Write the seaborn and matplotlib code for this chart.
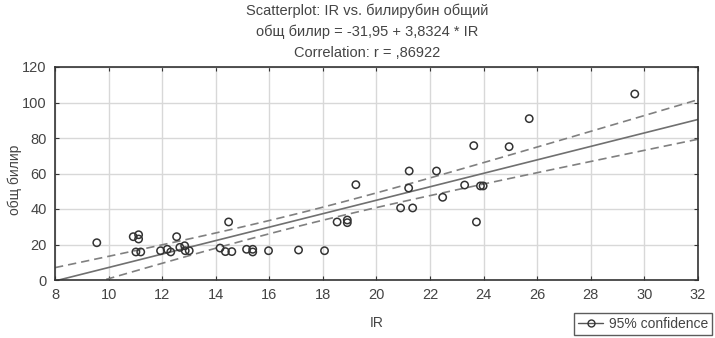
import numpy as np
import pandas as pd
import matplotlib
matplotlib.use("Agg")
import matplotlib.pyplot as plt
import seaborn as sns
from matplotlib.lines import Line2D

# values
ir = [9.56, 10.92, 11.12, 11.12, 11.02, 11.20, 11.94, 12.19, 12.32, 12.54,
      12.66, 12.84, 12.86, 13.01, 14.16, 14.36, 14.48, 14.60, 15.15, 15.38,
      15.38, 15.97, 17.09, 18.06, 18.53, 18.91, 18.91, 19.23, 20.90, 21.22,
      21.20, 21.35, 22.24, 22.47, 23.29, 23.63, 23.73, 23.88, 23.98, 24.95,
      25.70, 29.64]
bilir = [21.0, 24.4, 25.5, 23.1, 15.8, 15.8, 16.5, 17.3, 15.8, 24.4,
         18.4, 19.3, 16.5, 16.5, 18.0, 16.0, 32.7, 16.0, 17.3, 17.3,
         15.8, 16.5, 16.9, 16.5, 32.7, 33.8, 32.3, 53.7, 40.6, 61.4,
         51.8, 40.6, 61.4, 46.6, 53.5, 75.7, 32.7, 53.0, 53.0, 75.1,
         90.9, 104.8]
xticks = [8, 10, 12, 14, 16, 18, 20, 22, 24, 26, 28, 30, 32]
yticks = [0, 20, 40, 60, 80, 100, 120]

df = pd.DataFrame({"IR": ir, "bilir": bilir})

sns.set_style("whitegrid")
plt.rcParams['font.family'] = ['Liberation Sans', 'DejaVu Sans']

fig = plt.figure(figsize=(7.15, 3.38), dpi=100)
ax = fig.add_axes([55/715, 1-280/338, 643/715, 213/338])

# regression line + 95% confidence band (computed from the points)
xs = np.linspace(8, 32, 100)
b, a = np.polyfit(df.IR, df.bilir, 1)
n = len(df)
res = df.bilir - (a + b*df.IR)
s = np.sqrt((res**2).sum()/(n-2))
sxx = ((df.IR - df.IR.mean())**2).sum()
se = s*np.sqrt(1/n + (xs - df.IR.mean())**2/sxx)
t = 2.02
fit = a + b*xs
ax.plot(xs, fit, color="#707070", lw=1.2)
ax.plot(xs, fit + t*se, color="#808080", lw=1.2, ls=(0, (5, 3)))
ax.plot(xs, fit - t*se, color="#808080", lw=1.2, ls=(0, (5, 3)))

sns.scatterplot(data=df, x="IR", y="bilir", ax=ax, marker="o", s=28,
                facecolor="none", edgecolor="#333333", linewidth=1.1, zorder=3)

ax.set_xlim(8, 32)
ax.set_ylim(0, 120)
ax.set_xticks(xticks)
ax.set_yticks(yticks)
ax.grid(True, color="#d8d8d8", lw=1)
for sp in ax.spines.values():
    sp.set_visible(True)
    sp.set_color("#333333")
    sp.set_linewidth(1.2)
ax.tick_params(direction="in", length=3, labelsize=10.5, colors="#333333",
               left=True, bottom=True, right=True, top=True, pad=6)
ax.tick_params(labelcolor="#444444")
ax.set_xlabel("IR", fontsize=10, color="#444444")
ax.set_ylabel("общ билир", fontsize=10, color="#444444")
ax.xaxis.set_label_coords(0.5, -0.17)
ax.yaxis.set_label_coords(-0.052, 0.47)

fig.text(367/715, 1-11/338, "Scatterplot: IR vs. билирубин общий", ha="center", va="center", fontsize=10.5, color="#444444")
fig.text(367/715, 1-32/338, "общ билир = -31,95 + 3,8324 * IR", ha="center", va="center", fontsize=10.5, color="#444444")
fig.text(367/715, 1-53/338, "Correlation: r = ,86922", ha="center", va="center", fontsize=10.5, color="#444444")

h = Line2D([0], [0], color="#555555", lw=1, marker="o", markerfacecolor="none",
           markeredgecolor="#333333", markersize=5)
fig.legend([h], ["95% confidence"], loc="lower right", bbox_to_anchor=(712/715, 3/338),
           borderaxespad=0, frameon=True, fancybox=False, edgecolor="#333333", fontsize=10,
           handlelength=1.8, borderpad=0.3, handletextpad=0.4, labelcolor="#444444")

fig.savefig("out.png", dpi=100)
